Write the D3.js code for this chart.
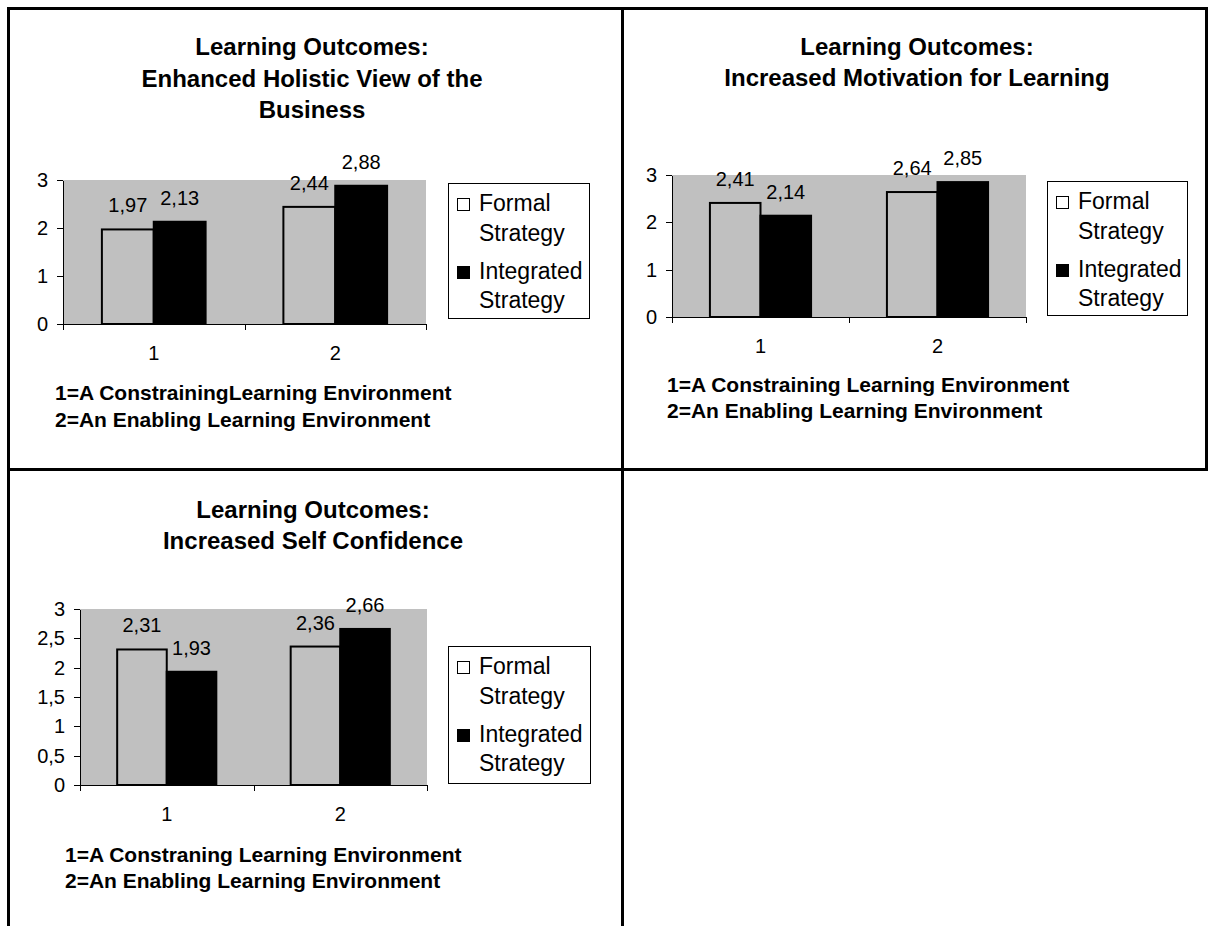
<!DOCTYPE html>
<html>
<head>
<meta charset="utf-8">
<title>Learning Outcomes</title>
<script src="https://d3js.org/d3.v7.min.js"></script>
<style>
  body { margin: 0; background: #fff; }
  text { font-family: Arial, "Liberation Sans", sans-serif; fill: #000; }
  .axis path, .axis line { stroke: #000; shape-rendering: crispEdges; }
  .axis text { font-size: 20px; }
</style>
</head>
<body>
<script>
// data
var categories = ["1", "2"];
var seriesNames = ["Formal Strategy", "Integrated Strategy"];

var holisticFormal = [1.97, 2.44];
var holisticIntegrated = [2.13, 2.88];
var motivationFormal = [2.41, 2.64];
var motivationIntegrated = [2.14, 2.85];
var confidenceFormal = [2.31, 2.36];
var confidenceIntegrated = [1.93, 2.66];

var ticksWhole = [0, 1, 2, 3];
var ticksHalf = [0, 0.5, 1, 1.5, 2, 2.5, 3];

var titleHolistic = ["Learning Outcomes:", "Enhanced Holistic View of the", "Business"];
var titleMotivation = ["Learning Outcomes:", "Increased Motivation for Learning"];
var titleConfidence = ["Learning Outcomes:", "Increased Self Confidence"];

var noteHolistic = ["1=A ConstrainingLearning Environment", "2=An Enabling Learning Environment"];
var noteMotivation = ["1=A Constraining Learning Environment", "2=An Enabling Learning Environment"];
var noteConfidence = ["1=A Constraning Learning Environment", "2=An Enabling Learning Environment"];

// comma decimals like the original
var loc = d3.formatLocale({ decimal: ",", thousands: ".", grouping: [3], currency: ["", ""] });
var fmtValue = loc.format(".2f");
var fmtTick = loc.format("~g");

var width = 1214, height = 926;
var svg = d3.select("body").append("svg")
  .attr("width", width)
  .attr("height", height);

// cell frame
var frame = svg.append("g").attr("stroke", "#000").attr("stroke-width", 3);
frame.append("line").attr("x1", 7).attr("y1", 8.5).attr("x2", 1208).attr("y2", 8.5);
frame.append("line").attr("x1", 8.5).attr("y1", 7).attr("x2", 8.5).attr("y2", 926);
frame.append("line").attr("x1", 1206.5).attr("y1", 7).attr("x2", 1206.5).attr("y2", 471);
frame.append("line").attr("x1", 622.5).attr("y1", 7).attr("x2", 622.5).attr("y2", 926);
frame.append("line").attr("x1", 7).attr("y1", 469.5).attr("x2", 1208).attr("y2", 469.5);

var panels = [
  { title: titleHolistic, note: noteHolistic, formal: holisticFormal, integrated: holisticIntegrated, ticks: ticksWhole,
    titleX: 312, titleY: [55, 87, 118], x0: 63, x1: 426, yTop: 180, y0: 324,
    legend: { x: 448, y: 183, w: 141, h: 135 }, noteX: 55, noteY: [400, 427] },
  { title: titleMotivation, note: noteMotivation, formal: motivationFormal, integrated: motivationIntegrated, ticks: ticksWhole,
    titleX: 917, titleY: [55, 86], x0: 672, x1: 1026, yTop: 175, y0: 317,
    legend: { x: 1047, y: 181, w: 140, h: 134 }, noteX: 667, noteY: [392, 418] },
  { title: titleConfidence, note: noteConfidence, formal: confidenceFormal, integrated: confidenceIntegrated, ticks: ticksHalf,
    titleX: 313, titleY: [518, 549], x0: 80, x1: 427, yTop: 609, y0: 785,
    legend: { x: 448, y: 646, w: 142, h: 137 }, noteX: 65, noteY: [862, 888] }
];

panels.forEach(function(p) {
  var g = svg.append("g");

  // title
  g.selectAll(".title").data(p.title).enter().append("text")
    .attr("x", p.titleX)
    .attr("y", function(d, i) { return p.titleY[i]; })
    .attr("text-anchor", "middle")
    .style("font-size", "24px")
    .style("font-weight", "bold")
    .text(function(d) { return d; });

  var x = d3.scaleBand().domain(categories).range([p.x0, p.x1]);
  var xs = d3.scaleBand().domain(seriesNames).range([0, x.bandwidth()]).paddingInner(0).paddingOuter(0.75);
  var y = d3.scaleLinear().domain([0, 3]).range([p.y0, p.yTop]);

  // plot area
  g.append("rect")
    .attr("x", p.x0).attr("y", p.yTop)
    .attr("width", p.x1 - p.x0).attr("height", p.y0 - p.yTop)
    .attr("fill", "#c0c0c0");

  var rows = categories.map(function(c, i) {
    return [
      { cat: c, s: seriesNames[0], v: p.formal[i] },
      { cat: c, s: seriesNames[1], v: p.integrated[i] }
    ];
  });
  var flat = d3.merge(rows);

  g.selectAll(".bar").data(flat).enter().append("rect")
    .attr("x", function(d) { return x(d.cat) + xs(d.s); })
    .attr("y", function(d) { return y(d.v); })
    .attr("width", xs.bandwidth())
    .attr("height", function(d) { return p.y0 - y(d.v); })
    .attr("fill", function(d) { return d.s === seriesNames[0] ? "#c0c0c0" : "#000"; })
    .attr("stroke", "#000")
    .attr("stroke-width", 2);

  g.selectAll(".val").data(flat).enter().append("text")
    .attr("x", function(d) { return x(d.cat) + xs(d.s) + xs.bandwidth() / 2; })
    .attr("y", function(d) { return y(d.v) - 17; })
    .attr("text-anchor", "middle")
    .style("font-size", "20px")
    .text(function(d) { return fmtValue(d.v); });

  // axes
  g.append("g").attr("class", "axis")
    .attr("transform", "translate(" + p.x0 + ",0)")
    .call(d3.axisLeft(y).tickValues(p.ticks).tickFormat(fmtTick).tickSize(6).tickSizeOuter(0).tickPadding(9));

  var xEdge = d3.scaleLinear().domain([0, categories.length]).range([p.x0, p.x1]);
  g.append("g").attr("class", "axis")
    .attr("transform", "translate(0," + p.y0 + ")")
    .call(d3.axisBottom(xEdge).tickValues(d3.range(categories.length + 1)).tickFormat("").tickSize(6).tickSizeOuter(0));

  var xa = g.append("g").attr("class", "axis")
    .attr("transform", "translate(0," + p.y0 + ")")
    .call(d3.axisBottom(x).tickSize(0).tickPadding(22));
  xa.select(".domain").remove();

  // legend
  var L = p.legend;
  g.append("rect")
    .attr("x", L.x + 0.5).attr("y", L.y + 0.5)
    .attr("width", L.w).attr("height", L.h)
    .attr("fill", "#fff").attr("stroke", "#000").attr("stroke-width", 1);
  var base = [[28, 58], [96, 125]];
  seriesNames.forEach(function(s, i) {
    var words = s.split(" ");
    g.append("rect")
      .attr("x", L.x + 9.5).attr("y", L.y + base[i][0] - 12.5)
      .attr("width", 12).attr("height", 12)
      .attr("fill", i === 0 ? "#fff" : "#000")
      .attr("stroke", "#000").attr("stroke-width", 1);
    g.append("text")
      .attr("x", L.x + 31).attr("y", L.y + base[i][0])
      .style("font-size", "23px").text(words[0]);
    g.append("text")
      .attr("x", L.x + 31).attr("y", L.y + base[i][1])
      .style("font-size", "23px").text(words[1]);
  });

  // footnote
  g.selectAll(".note").data(p.note).enter().append("text")
    .attr("x", p.noteX)
    .attr("y", function(d, i) { return p.noteY[i]; })
    .style("font-size", "21px")
    .style("font-weight", "bold")
    .text(function(d) { return d; });
});
</script>
</body>
</html>
